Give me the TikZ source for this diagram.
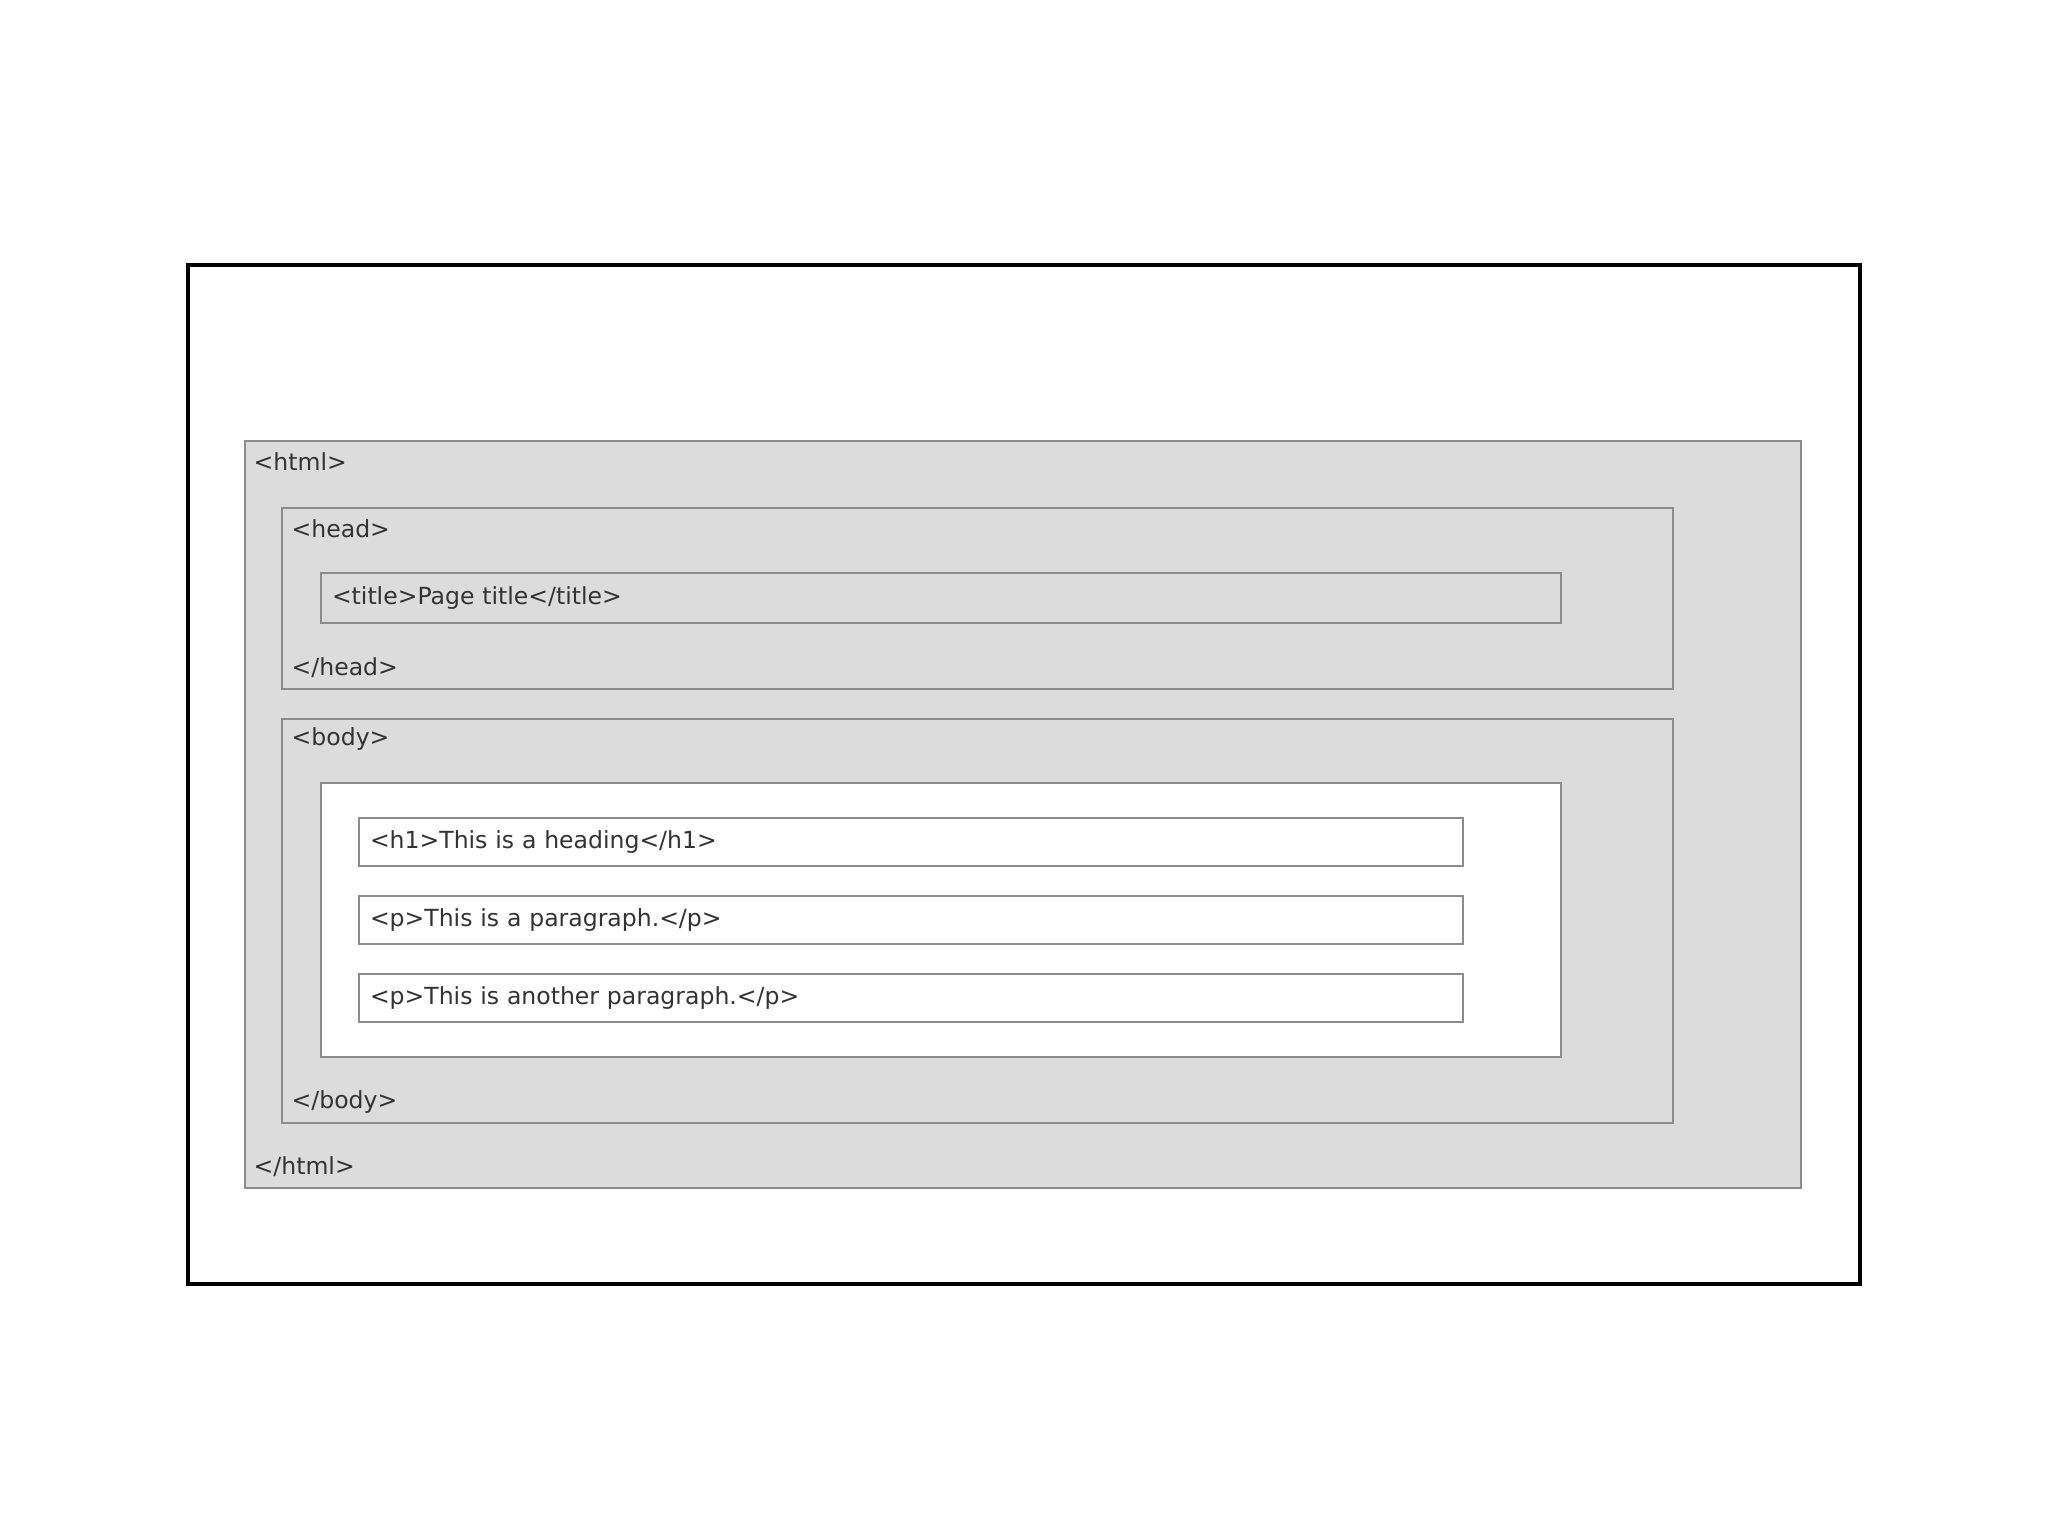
\documentclass[tikz,border=0pt]{standalone}
\usepackage{xcolor}
\usepackage{fontspec}
\setmainfont{DejaVu Sans}
\usepackage{tikz}
\usetikzlibrary{positioning}

\definecolor{pagefill}{HTML}{DCDCDC}
\definecolor{pageline}{HTML}{8C8C8C}
\definecolor{pagetext}{HTML}{333333}

\begin{document}
\begin{tikzpicture}[
    element/.style={rectangle, draw=pageline, line width=0.6pt, fill=pagefill, inner sep=0pt},
    content/.style={element, fill=white},
    tagline/.style={element, text width=#1, align=left, inner xsep=0.11cm, font=\fontsize{6.7}{8}\selectfont, text=pagetext},
    tag/.style={anchor=west, inner sep=0pt, font=\fontsize{6.7}{8}\selectfont, text=pagetext}
]
\useasboundingbox (0,0) rectangle (20.48,-15.36);

% Frame
\node[rectangle, draw=black, line width=0.9pt, minimum width=16.72cm, minimum height=10.19cm] (frame) at (10.24,-7.745) {};

% html
\node[element, minimum width=15.56cm, minimum height=7.47cm] (html) at (10.23,-8.145) {};
\node[tag] (htmlopen) at (2.53,-4.62) {<html>};
\node[tag] (htmlclose) at (2.53,-11.67) {</html>};

% head
\node[element, minimum width=13.91cm, minimum height=1.81cm] (head) at (9.775,-5.985) {};
\node[tag] (headopen) at (2.91,-5.29) {<head>};
\node[tag] (headclose) at (2.91,-6.68) {</head>};
\node[tagline=12.18cm, minimum height=0.50cm] (title) at (9.41,-5.98) {<title>Page title</title>};

% body
\node[element, minimum width=13.91cm, minimum height=4.04cm] (body) at (9.775,-9.21) {};
\node[tag] (bodyopen) at (2.91,-7.39) {<body>};
\node[tag] (bodyclose) at (2.91,-11.02) {</body>};
\node[content, minimum width=12.40cm, minimum height=2.74cm] (page) at (9.41,-9.20) {};

% Blocks
\node[tagline=10.82cm, fill=white, minimum height=0.48cm] (heading) at (9.11,-8.42) {<h1>This is a heading</h1>};
\node[tagline=10.82cm, fill=white, minimum height=0.48cm, below=0.28cm of heading] (para) {<p>This is a paragraph.</p>};
\node[tagline=10.82cm, fill=white, minimum height=0.48cm, below=0.28cm of para] (parb) {<p>This is another paragraph.</p>};

\end{tikzpicture}
\end{document}
